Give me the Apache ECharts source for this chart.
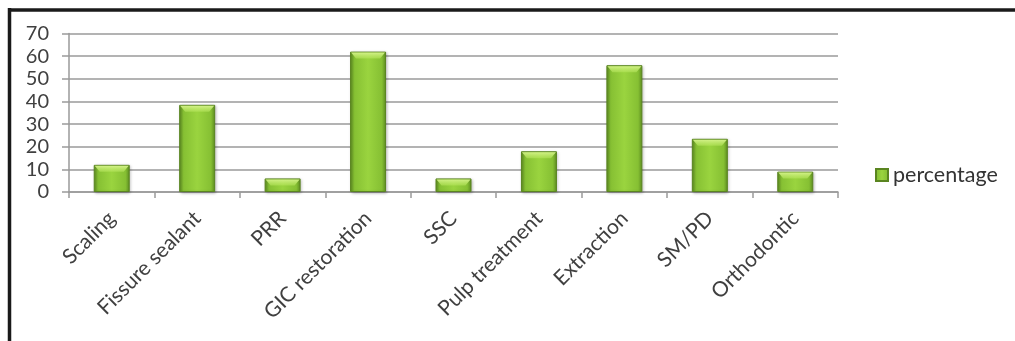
<!DOCTYPE html>
<html>
<head>
<meta charset="utf-8">
<script src="https://cdn.jsdelivr.net/npm/echarts@6/dist/echarts.min.js"></script>
<style>
html,body{margin:0;padding:0;background:#fff;}
#c{width:1015px;height:341px;}
</style>
</head>
<body>
<div id="c"></div>
<script>
var categories = ["Scaling","Fissure sealant","PRR","GIC restoration","SSC","Pulp treatment","Extraction","SM/PD","Orthodontic"];
var seriesName = "percentage";
var values = [12, 38.5, 6, 62, 6, 18, 56, 23.5, 9];
var yTicks = [0,10,20,30,40,50,60,70];

var chart = echarts.init(document.getElementById('c'));
var barColor = new echarts.graphic.LinearGradient(0,0,1,0,[
  {offset:0,color:'#5f8f22'},
  {offset:0.12,color:'#86c033'},
  {offset:0.5,color:'#9ad43f'},
  {offset:0.88,color:'#86c033'},
  {offset:1,color:'#5f8f22'}
]);
var BAR_W = 36;
chart.setOption({
  animation:false,
  textStyle:{fontFamily:'Lato'},
  grid:{left:69,right:177,top:33.5,bottom:149,containLabel:false},
  graphic:[
    {type:'line',shape:{x1:8,y1:10,x2:1015,y2:10},style:{stroke:'#1a1a1a',lineWidth:3.5}},
    {type:'line',shape:{x1:9.5,y1:8,x2:9.5,y2:341},style:{stroke:'#1a1a1a',lineWidth:3.5}}
  ],
  legend:{
    data:[{name:seriesName,icon:'rect'}],
    left:875,top:164,padding:0,
    itemWidth:12,itemHeight:12,itemGap:6,
    textStyle:{fontSize:21.5,color:'#333',fontFamily:'Lato'}
  },
  xAxis:{
    type:'category',
    data:categories,
    boundaryGap:true,
    axisLine:{show:true,lineStyle:{color:'#9a9a9a',width:1.5}},
    axisTick:{show:true,length:6,lineStyle:{color:'#9a9a9a',width:1.5}},
    axisLabel:{interval:0,rotate:45,fontSize:21,color:'#404040',margin:23,fontFamily:'Lato'}
  },
  yAxis:{
    type:'value',
    min:yTicks[0],max:yTicks[yTicks.length-1],interval:10,
    axisLine:{show:true,lineStyle:{color:'#9a9a9a',width:1.5}},
    axisTick:{show:true,length:7,lineStyle:{color:'#9a9a9a',width:1.5}},
    splitLine:{show:true,lineStyle:{color:'#9a9a9a',width:1.5}},
    axisLabel:{fontSize:20,color:'#404040',margin:20,fontFamily:'Lato'}
  },
  series:[{
    name:seriesName,
    type:'bar',
    data:values,
    barWidth:BAR_W,
    z:2,
    itemStyle:{color:barColor,borderColor:'#5a8520',borderWidth:1,
      shadowColor:'rgba(0,0,0,0.25)',shadowBlur:3,shadowOffsetX:1,shadowOffsetY:1}
  },{
    name:'bevel',
    type:'custom',
    data:values,
    z:3,
    silent:true,
    renderItem:function(params, api){
      var p = api.coord([api.value(0), api.value(1)]);
      var x0 = p[0]-BAR_W/2+1, x1 = p[0]+BAR_W/2-1, y = p[1]+1;
      var h = 6, inset = 5;
      return {
        type:'polygon',
        shape:{points:[[x0,y],[x1,y],[x1-inset,y+h],[x0+inset,y+h]]},
        style:{fill:new echarts.graphic.LinearGradient(0,0,0,1,[
          {offset:0,color:'rgba(215,245,140,0.95)'},
          {offset:1,color:'rgba(180,228,90,0.6)'}
        ])}
      };
    },
    encode:{x:0,y:1}
  }]
});
</script>
</body>
</html>
